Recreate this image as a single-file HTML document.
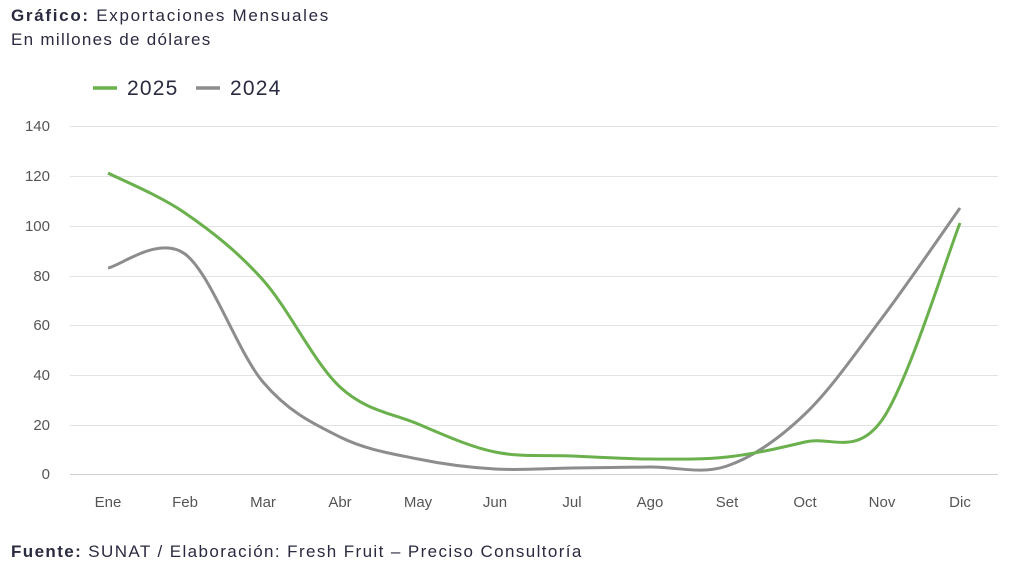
<!DOCTYPE html>
<html><head><meta charset="utf-8"><style>
body{margin:0;background:#fff;width:1024px;height:582px;overflow:hidden;font-family:"Liberation Sans",sans-serif;color:#2a2a40}
.t{position:absolute;font-size:17px;left:11px;white-space:nowrap}
</style></head><body>
<div class="t" style="top:6px;letter-spacing:1.7px"><b>Gráfico:</b> Exportaciones Mensuales</div>
<div class="t" style="top:30px;letter-spacing:1.3px">En millones de dólares</div>
<div class="t" style="top:542px;letter-spacing:1.4px"><b>Fuente:</b> SUNAT / Elaboración: Fresh Fruit – Preciso Consultoría</div>
<svg width="1024" height="582" style="position:absolute;left:0;top:0" id="s">
<g stroke="#e3e3e3" stroke-width="1">
<line x1="70" x2="998" y1="126.5" y2="126.5"/><line x1="70" x2="998" y1="176.5" y2="176.5"/>
<line x1="70" x2="998" y1="226.5" y2="226.5"/><line x1="70" x2="998" y1="276.5" y2="276.5"/>
<line x1="70" x2="998" y1="325.5" y2="325.5"/><line x1="70" x2="998" y1="375.5" y2="375.5"/>
<line x1="70" x2="998" y1="425.5" y2="425.5"/></g>
<line x1="70" x2="998" y1="474.5" y2="474.5" stroke="#cfcfcf"/>
<g font-size="15" fill="#555" text-anchor="end" font-family="Liberation Sans">
<text x="50" y="131">140</text><text x="50" y="181">120</text><text x="50" y="231">100</text>
<text x="50" y="281">80</text><text x="50" y="330">60</text><text x="50" y="380">40</text>
<text x="50" y="430">20</text><text x="50" y="479">0</text></g>
<g font-size="15" fill="#555" text-anchor="middle" font-family="Liberation Sans">
<text x="108" y="507">Ene</text><text x="185" y="507">Feb</text><text x="263" y="507">Mar</text>
<text x="340" y="507">Abr</text><text x="418" y="507">May</text><text x="495" y="507">Jun</text>
<text x="572" y="507">Jul</text><text x="650" y="507">Ago</text><text x="727" y="507">Set</text>
<text x="805" y="507">Oct</text><text x="882" y="507">Nov</text><text x="960" y="507">Dic</text></g>
<line x1="93" x2="117" y1="88" y2="88" stroke="#6ab04c" stroke-width="3.5"/>
<text x="127" y="95" font-size="21" fill="#2a2a40" letter-spacing="1.2">2025</text>
<line x1="196" x2="220" y1="88" y2="88" stroke="#8d8d8f" stroke-width="3.5"/>
<text x="230" y="95" font-size="21" fill="#2a2a40" letter-spacing="1.2">2024</text>
<path id="g24" fill="none" stroke="#8d8d8f" stroke-width="3"/>
<path id="g25" fill="none" stroke="#6ab04c" stroke-width="3"/>
</svg>
<script>
var xs=[108,185,263,340,418,495,572,650,727,805,882,960];
function path(ys){var p=xs.map((x,i)=>[x,ys[i]]);var d="M"+p[0];
for(var i=0;i<p.length-1;i++){var a=p[i-1]||p[i],b=p[i],c=p[i+1],e=p[i+2]||c;
d+="C"+(b[0]+(c[0]-a[0])/6)+","+(b[1]+(c[1]-a[1])/6)+" "+(c[0]-(e[0]-b[0])/6)+","+(c[1]-(e[1]-b[1])/6)+" "+c;}return d;}
document.getElementById("g25").setAttribute("d",path([173,213,280,387,424,452,456,459,457,442,420,223]));
document.getElementById("g24").setAttribute("d",path([268,254,382,437,459,469,468,467,466,414,318,208]));
</script>
</body></html>
